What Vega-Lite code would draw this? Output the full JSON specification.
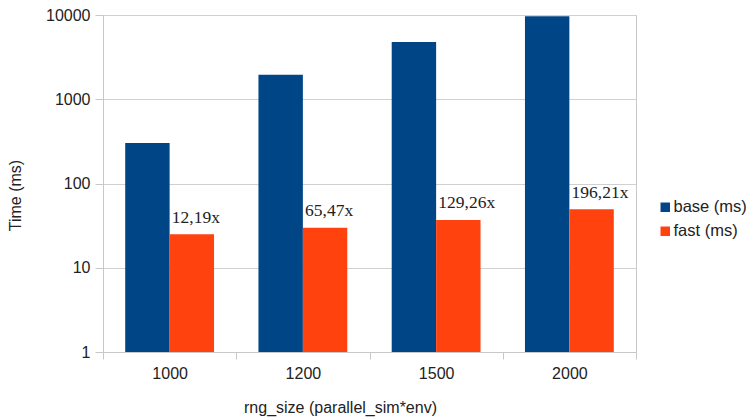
{
  "$schema": "https://vega.github.io/schema/vega-lite/v6.json",
  "width": 533,
  "height": 337,
  "autosize": {"type": "none"},
  "padding": {"left": 103, "top": 15, "right": 114, "bottom": 65},
  "background": "white",
  "data": {
    "values": [
      {"size": "1000", "series": "base (ms)", "time": 303},
      {"size": "1000", "series": "fast (ms)", "time": 24.9, "label": "12,19x"},
      {"size": "1200", "series": "base (ms)", "time": 1960},
      {"size": "1200", "series": "fast (ms)", "time": 29.9, "label": "65,47x"},
      {"size": "1500", "series": "base (ms)", "time": 4770},
      {"size": "1500", "series": "fast (ms)", "time": 36.9, "label": "129,26x"},
      {"size": "2000", "series": "base (ms)", "time": 9690},
      {"size": "2000", "series": "fast (ms)", "time": 49.4, "label": "196,21x"}
    ]
  },
  "encoding": {
    "x": {
      "field": "size",
      "type": "nominal",
      "sort": null,
      "scale": {"paddingInner": 0, "paddingOuter": 0},
      "axis": {
        "title": "rng_size (parallel_sim*env)",
        "labelAngle": 0,
        "tickBand": "extent",
        "grid": false,
        "domainColor": "#c8c8c8",
        "tickColor": "#c8c8c8",
        "tickSize": 7,
        "labelPadding": 6,
        "labelFont": "Liberation Sans",
        "labelFontSize": 16,
        "labelColor": "#222222",
        "titleFont": "Liberation Sans",
        "titleFontSize": 16,
        "titleFontWeight": "normal",
        "titleColor": "#222222",
        "titleX": 237,
        "titleY": 60,
        "titleAnchor": "middle",
        "titleAlign": "center",
        "titleBaseline": "alphabetic"
      }
    },
    "xOffset": {
      "field": "series",
      "type": "nominal",
      "scale": {"paddingInner": 0, "paddingOuter": 0.5}
    },
    "y": {
      "field": "time",
      "type": "quantitative",
      "scale": {"type": "log", "domain": [1, 10000], "nice": false},
      "axis": {
        "title": "Time (ms)",
        "values": [1, 10, 100, 1000, 10000],
        "format": "d",
        "grid": true,
        "gridColor": "#d0d0d0",
        "domainColor": "#c8c8c8",
        "tickColor": "#c8c8c8",
        "tickSize": 8,
        "labelPadding": 5,
        "labelFont": "Liberation Sans",
        "labelFontSize": 16,
        "labelColor": "#222222",
        "titleFont": "Liberation Sans",
        "titleFontSize": 16,
        "titleFontWeight": "normal",
        "titleColor": "#222222",
        "titleX": -88,
        "titleY": 180,
        "titleAngle": -90,
        "titleAlign": "center",
        "titleBaseline": "middle"
      }
    }
  },
  "layer": [
    {
      "mark": {"type": "bar"},
      "encoding": {
        "y2": {"datum": 1},
        "color": {
          "field": "series",
          "type": "nominal",
          "scale": {"domain": ["base (ms)", "fast (ms)"], "range": ["#004586", "#ff420e"]},
          "legend": {
            "title": null,
            "orient": "none",
            "legendX": 554,
            "legendY": 184,
            "symbolType": "square",
            "symbolSize": 90,
            "symbolStrokeWidth": 0,
            "labelFont": "Liberation Sans",
            "labelFontSize": 16.5,
            "labelColor": "#222222",
            "labelOffset": 0,
            "rowPadding": 7
          }
        }
      }
    },
    {
      "transform": [{"filter": "datum.label"}],
      "mark": {
        "type": "text",
        "align": "left",
        "baseline": "alphabetic",
        "dx": -20,
        "dy": -11.5,
        "font": "Liberation Serif",
        "fontSize": 17.5,
        "color": "#222222"
      },
      "encoding": {
        "text": {"field": "label"}
      }
    }
  ],
  "config": {
    "view": {"stroke": "#c8c8c8"}
  }
}
